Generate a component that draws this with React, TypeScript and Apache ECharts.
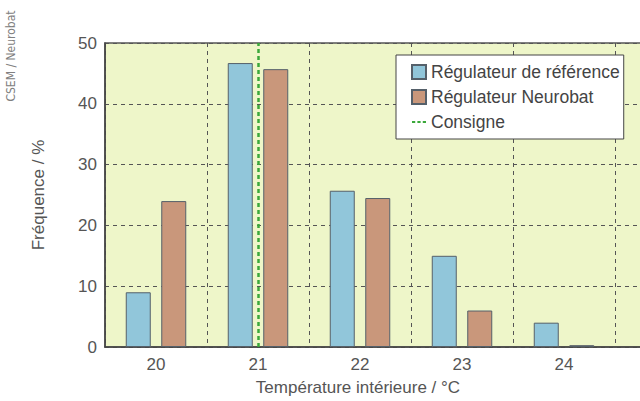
import React, { useEffect, useRef } from "react";
import * as echarts from "echarts";

const categories = ["20", "21", "22", "23", "24", ""];
const referenceValues = [9, 46.7, 25.7, 15, 4];
const neurobatValues = [24, 45.7, 24.5, 6, 0.3];
const setpoint = "21";
const yTicks = { min: 0, max: 50, interval: 10 };

export default function App() {
  const ref = useRef<HTMLDivElement>(null);
  useEffect(() => {
    const chart = echarts.init(ref.current!, null, { renderer: "svg" });
    const font = "'Liberation Sans', Arial, sans-serif";
    chart.setOption({
      animation: false,
      backgroundColor: "#ffffff",
      textStyle: { fontFamily: font },
      grid: {
        left: 105,
        top: 43,
        right: 0,
        bottom: 52,
        show: true,
        backgroundColor: "#eef6c9",
        borderColor: "#555555",
        borderWidth: 1.5,
      },
      legend: {
        orient: "vertical",
        left: 396,
        top: 55,
        padding: [8, 4, 8, 15],
        itemWidth: 14,
        itemHeight: 14,
        itemGap: 7,
        itemTextGap: 8,
        backgroundColor: "#ffffff",
        borderColor: "#444444",
        borderWidth: 1,
        textStyle: { fontSize: 17.5, color: "#444444", fontFamily: font },
        symbolKeepAspect: true,
        data: [
          { name: "Régulateur de référence", icon: "rect" },
          { name: "Régulateur Neurobat", icon: "rect" },
          {
            name: "Consigne",
            icon: "path://M0,0h3v2h-3z M5,0h3v2h-3z M10,0h3v2h-3z",
            itemStyle: { color: "#3aa83a", borderWidth: 0 },
          },
        ],
      },
      xAxis: {
        type: "category",
        data: categories,
        name: "Température intérieure / °C",
        nameLocation: "middle",
        nameGap: 32,
        nameTextStyle: { fontSize: 17, color: "#555555", padding: [0, 106, 0, 0] },
        axisLine: { lineStyle: { color: "#444444", width: 1.5 } },
        axisTick: { show: false },
        axisLabel: { fontSize: 17, color: "#555555", margin: 9 },
        splitLine: {
          show: true,
          interval: 0,
          lineStyle: { color: "#555555", type: [4, 4], width: 1 },
        },
      },
      yAxis: {
        type: "value",
        min: yTicks.min,
        max: yTicks.max,
        interval: yTicks.interval,
        name: "Fréquence / %",
        nameLocation: "middle",
        nameGap: 58,
        nameTextStyle: { fontSize: 17, color: "#555555" },
        axisLine: { show: true, lineStyle: { color: "#444444", width: 1.5 } },
        axisTick: { show: false },
        axisLabel: { fontSize: 17, color: "#555555", margin: 8 },
        splitLine: {
          show: true,
          lineStyle: { color: "#555555", type: [4, 4], width: 1 },
        },
      },
      series: [
        {
          name: "Régulateur de référence",
          type: "bar",
          data: referenceValues,
          barWidth: 25,
          barGap: "42%",
          itemStyle: { color: "#91c6da", borderColor: "#55606a", borderWidth: 1 },
        },
        {
          name: "Régulateur Neurobat",
          type: "bar",
          data: neurobatValues,
          barWidth: 25,
          barGap: "42%",
          itemStyle: { color: "#c9977b", borderColor: "#55606a", borderWidth: 1 },
        },
        {
          name: "Consigne",
          type: "line",
          data: [],
          itemStyle: { color: "#3aa83a" },
          lineStyle: { color: "#3aa83a", type: "dashed", width: 2 },
          markLine: {
            silent: true,
            symbol: "none",
            label: { show: false },
            lineStyle: { color: "#3aa83a", type: [4, 3], width: 2.5 },
            data: [{ xAxis: setpoint }],
          },
        },
      ],
      graphic: [
        {
          type: "text",
          x: 11,
          y: 56,
          rotation: Math.PI / 2,
          style: {
            text: "CSEM / Neurobat",
            fill: "#808080",
            font: "12px 'DejaVu Sans Condensed', sans-serif",
            align: "center",
            verticalAlign: "middle",
          },
        },
      ],
    });
    return () => chart.dispose();
  }, []);
  return (
    <div style={{ position: "fixed", left: 0, top: 0, width: 640, height: 401, overflow: "hidden" }}>
      <div ref={ref} style={{ width: 717, height: 401 }} />
    </div>
  );
}
